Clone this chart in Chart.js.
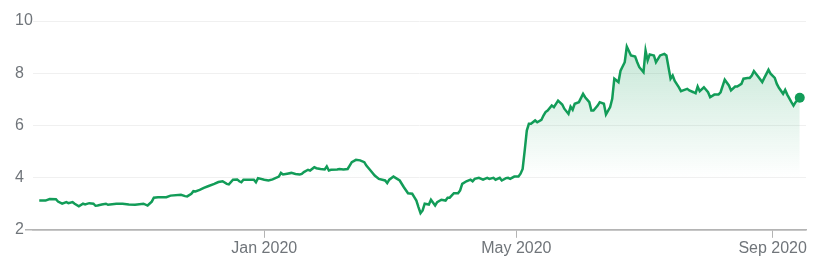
<!DOCTYPE html>
<html>
<head>
<meta charset="utf-8">
<title>Price chart</title>
<script src="https://cdn.jsdelivr.net/npm/chart.js@4/dist/chart.umd.min.js"></script>
<style>
  body { margin: 0; background: #fff; }
  #wrap { width: 822px; height: 268px; position: relative; }
</style>
</head>
<body>
<div id="wrap"><canvas id="priceChart"></canvas></div>
<script>
// days counted from 1 Jan 2020
const days = [
  -108, -105, -103, -100, -99, -97, -95, -94, -92, -91, -89, -87, -86, -84, -82, -81, -80, -78, -76, -75,
  -71, -68, -65, -62, -58, -56, -54, -53, -51, -47, -45, -40, -38, -37, -35, -34, -33, -31, -29, -27,
  -24, -22, -20, -18, -17, -15, -13, -12, -11, -10, -8, -5, -4, -3, 0, 2, 4, 7, 8, 9,
  11, 13, 15, 17, 18, 19, 21, 22, 24, 25, 27, 29, 30, 31, 32, 35, 36, 38, 40, 41,
  42, 44, 46, 48, 49, 51, 53, 55, 58, 59, 60, 62, 63, 65, 67, 69, 71, 72, 73, 74,
  75, 76, 77, 79, 80, 82, 83, 85, 87, 88, 89, 91, 93, 94, 95, 97, 99, 100, 101, 103,
  105, 107, 108, 110, 111, 113, 114, 116, 117, 118, 120, 122, 123, 124, 125, 126, 127, 128, 130, 131,
  133, 134, 135, 136, 138, 139, 141, 143, 144, 146, 147, 148, 149, 151, 153, 154, 156, 157, 158, 160,
  161, 163, 164, 166, 167, 168, 170, 171, 173, 174, 176, 178, 179, 180, 182, 183, 184, 185, 187, 188,
  190, 192, 193, 195, 196, 197, 199, 200, 201, 203, 204, 206, 207, 208, 209, 211, 213, 214, 216, 218,
  219, 221, 223, 224, 226, 227, 229, 230, 232, 233, 234, 235, 237, 239, 240, 242, 243, 245, 246, 247,
  249, 250, 251, 253, 254, 255, 257
];

const prices = [
  3.12, 3.12, 3.18, 3.17, 3.08, 3.00, 3.06, 3.02, 3.06, 3.00, 2.90, 3.00, 2.97, 3.02, 3.00, 2.92, 2.93, 2.97, 3.00, 2.96,
  3.00, 3.00, 2.97, 2.96, 3.00, 2.93, 3.08, 3.23, 3.25, 3.25, 3.31, 3.34, 3.29, 3.28, 3.38, 3.48, 3.47, 3.53, 3.61, 3.67,
  3.76, 3.83, 3.86, 3.76, 3.74, 3.92, 3.93, 3.86, 3.82, 3.92, 3.92, 3.92, 3.82, 3.98, 3.92, 3.89, 3.93, 4.04, 4.18, 4.12,
  4.15, 4.18, 4.14, 4.12, 4.14, 4.21, 4.30, 4.27, 4.40, 4.36, 4.33, 4.31, 4.43, 4.27, 4.30, 4.31, 4.33, 4.31, 4.33, 4.46,
  4.59, 4.68, 4.66, 4.59, 4.46, 4.27, 4.08, 3.95, 3.89, 3.79, 3.92, 4.04, 3.99, 3.89, 3.63, 3.40, 3.38, 3.25, 3.12, 2.87,
  2.64, 2.74, 3.00, 2.97, 3.15, 2.93, 3.06, 3.15, 3.12, 3.23, 3.23, 3.40, 3.40, 3.51, 3.76, 3.86, 3.92, 3.86, 3.95, 3.99,
  3.92, 3.99, 3.95, 3.99, 3.92, 3.99, 3.89, 3.98, 3.99, 3.95, 4.04, 4.04, 4.15, 4.33, 5.04, 5.80, 6.06, 6.06, 6.19, 6.12,
  6.21, 6.38, 6.51, 6.57, 6.76, 6.70, 6.95, 6.80, 6.64, 6.44, 6.72, 6.60, 6.83, 6.89, 7.21, 7.08, 6.89, 6.57, 6.57, 6.76,
  6.89, 6.83, 6.42, 6.70, 7.02, 7.79, 7.66, 8.10, 8.42, 9.02, 8.68, 8.64, 8.42, 8.23, 8.04, 8.87, 8.49, 8.72, 8.68, 8.42,
  8.68, 8.74, 8.68, 7.79, 7.91, 7.70, 7.46, 7.31, 7.34, 7.40, 7.34, 7.27, 7.23, 7.49, 7.31, 7.46, 7.27, 7.08, 7.18, 7.18,
  7.27, 7.75, 7.53, 7.34, 7.49, 7.49, 7.59, 7.79, 7.82, 7.82, 7.91, 8.08, 7.87, 7.66, 7.82, 8.13, 7.98, 7.82, 7.59, 7.44,
  7.21, 7.36, 7.18, 6.89, 6.76, 6.89, 7.06
];

const tickDays = [0, 121, 244];
const tickLabels = ['Jan 2020', 'May 2020', 'Sep 2020'];
const yTicks = [2, 4, 6, 8, 10];

const green = '#129c58';
const axisGrey = '#b4b4b4';

function renderPriceChart() {
    const ctx = document.getElementById('priceChart').getContext('2d');
    const points = days.map((d, i) => ({ x: d, y: prices[i] }));
    const last = points.length - 1;

    // fade the area from the high part of the chart down to the 4 line
    function areaFill(c) {
        const chart = c.chart;
        if (!chart.chartArea) return 'rgba(18,156,88,0.1)';
        const yScale = chart.scales.y;
        const top = yScale.getPixelForValue(9);
        const bottom = yScale.getPixelForValue(4);
        const g = chart.ctx.createLinearGradient(0, top, 0, bottom);
        g.addColorStop(0, 'rgba(18,156,88,0.24)');
        g.addColorStop(1, 'rgba(18,156,88,0)');
        return g;
    }

    new Chart(ctx, {
        type: 'line',
        data: {
            datasets: [{
                data: points,
                borderColor: green,
                borderWidth: 2.5,
                backgroundColor: areaFill,
                fill: 'origin',
                tension: 0,
                pointRadius: c => c.dataIndex === last ? 5 : 0,
                pointHoverRadius: 0,
                pointBackgroundColor: green,
                pointBorderWidth: 0
            }]
        },
        options: {
            responsive: true,
            maintainAspectRatio: false,
            animation: false,
            events: [],
            layout: { padding: { left: 15, right: 16, top: 21, bottom: 9 } },
            plugins: { legend: { display: false }, tooltip: { enabled: false } },
            scales: {
                x: {
                    type: 'linear',
                    min: -111,
                    max: 260,
                    afterBuildTicks: scale => { scale.ticks = tickDays.map(v => ({ value: v })); },
                    ticks: {
                        autoSkip: false,
                        maxRotation: 0,
                        padding: 1,
                        color: '#70757a',
                        font: { family: 'Liberation Sans, Arial, sans-serif', size: 16 },
                        callback: value => tickLabels[tickDays.indexOf(value)]
                    },
                    grid: {
                        drawOnChartArea: false,
                        drawTicks: true,
                        tickLength: 8,
                        tickColor: axisGrey
                    },
                    border: { display: true, color: axisGrey, width: 1.5 }
                },
                y: {
                    min: 2,
                    max: 10,
                    afterBuildTicks: scale => { scale.ticks = yTicks.map(v => ({ value: v })); },
                    afterFit: scale => { scale.width = 18; },
                    ticks: {
                        crossAlign: 'far',
                        padding: 0,
                        color: '#70757a',
                        font: { family: 'Liberation Sans, Arial, sans-serif', size: 16 }
                    },
                    grid: {
                        color: c => c.tick && c.tick.value === 2 ? axisGrey : '#f0f0f0',
                        lineWidth: c => c.tick && c.tick.value === 2 ? 1.5 : 1,
                        drawTicks: true,
                        tickLength: 8,
                        tickColor: c => c.tick && c.tick.value === 2 ? axisGrey : 'rgba(0,0,0,0)'
                    },
                    border: { display: false }
                }
            }
        }
    });
}

document.addEventListener('DOMContentLoaded', renderPriceChart);
</script>
</body>
</html>
